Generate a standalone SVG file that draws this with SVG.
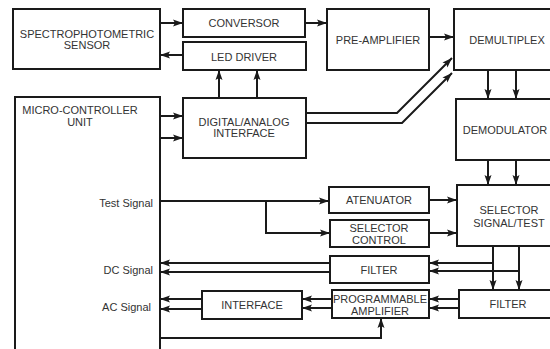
<svg xmlns="http://www.w3.org/2000/svg" width="550" height="349" viewBox="0 0 550 349">
<style>
.box{fill:#fff;stroke:#1a1a1a;stroke-width:2}
.t{font-family:"Liberation Sans",Arial,sans-serif;font-size:11px;fill:#333;text-anchor:middle}
.r{text-anchor:end}
.c{fill:none;stroke:#1a1a1a;stroke-width:2}
</style>
<defs>
<marker id="a" markerUnits="userSpaceOnUse" markerWidth="12" markerHeight="10" refX="10" refY="5" orient="auto">
<path d="M0,1.5 L10,5 L0,8.5 L2,5 Z" fill="#1a1a1a"/>
</marker>
</defs>
<rect width="550" height="349" fill="#fff"/>
<g id="connectors">
<path class="c" d="M160,23 H183" marker-end="url(#a)"/>
<path class="c" d="M183,55 H160" marker-end="url(#a)"/>
<path class="c" d="M305,23 H327" marker-end="url(#a)"/>
<path class="c" d="M429,37 H454" marker-end="url(#a)"/>
<path class="c" d="M219,98 V70" marker-end="url(#a)"/>
<path class="c" d="M257,98 V70" marker-end="url(#a)"/>
<path class="c" d="M160,116 H183" marker-end="url(#a)"/>
<path class="c" d="M160,138 H183" marker-end="url(#a)"/>
<path class="c" d="M306,113 H397 L452,58" marker-end="url(#a)"/>
<path class="c" d="M306,123 H402 L452,73" marker-end="url(#a)"/>
<path class="c" d="M488,70 V99" marker-end="url(#a)"/>
<path class="c" d="M516,70 V99" marker-end="url(#a)"/>
<path class="c" d="M488,160 V185" marker-end="url(#a)"/>
<path class="c" d="M516,160 V185" marker-end="url(#a)"/>
<path class="c" d="M160,201 H329" marker-end="url(#a)"/>
<path class="c" d="M266,201 V233 H330" marker-end="url(#a)"/>
<path class="c" d="M429,200 H457" marker-end="url(#a)"/>
<path class="c" d="M429,233 H457" marker-end="url(#a)"/>
<path class="c" d="M493,246 V290" marker-end="url(#a)"/>
<path class="c" d="M519,246 V290" marker-end="url(#a)"/>
<path class="c" d="M493,263 H429" marker-end="url(#a)"/>
<path class="c" d="M519,271 H429" marker-end="url(#a)"/>
<path class="c" d="M330,263 H160" marker-end="url(#a)"/>
<path class="c" d="M330,272 H160" marker-end="url(#a)"/>
<path class="c" d="M459,299 H429" marker-end="url(#a)"/>
<path class="c" d="M459,308 H429" marker-end="url(#a)"/>
<path class="c" d="M332,299 H302" marker-end="url(#a)"/>
<path class="c" d="M332,308 H302" marker-end="url(#a)"/>
<path class="c" d="M202,299 H160" marker-end="url(#a)"/>
<path class="c" d="M202,309 H160" marker-end="url(#a)"/>
<path class="c" d="M160,338 H381 V318" marker-end="url(#a)"/>
</g>
<g id="sensor"><rect class="box" x="13" y="9" width="147" height="60"/><text class="t" x="87" y="38">SPECTROPHOTOMETRIC</text><text class="t" x="87" y="49">SENSOR</text></g>
<g id="conversor"><rect class="box" x="183" y="9" width="122" height="28"/><text class="t" x="244" y="27">CONVERSOR</text></g>
<g id="led-driver"><rect class="box" x="183" y="42" width="123" height="28"/><text class="t" x="244" y="61">LED DRIVER</text></g>
<g id="pre-amplifier"><rect class="box" x="327" y="9" width="102" height="61"/><text class="t" x="378" y="44">PRE-AMPLIFIER</text></g>
<g id="demultiplex"><rect class="box" x="454" y="9" width="120" height="61"/><text class="t" x="507" y="44">DEMULTIPLEX</text></g>
<g id="mcu"><rect class="box" x="15" y="97" width="145" height="270"/><text class="t" x="80" y="114">MICRO-CONTROLLER</text><text class="t" x="80" y="126">UNIT</text><text class="t r" x="153" y="207">Test Signal</text><text class="t r" x="153" y="274">DC Signal</text><text class="t r" x="151" y="311">AC Signal</text></g>
<g id="da-interface"><rect class="box" x="183" y="98" width="123" height="60"/><text class="t" x="244" y="126">DIGITAL/ANALOG</text><text class="t" x="244" y="137">INTERFACE</text></g>
<g id="demodulator"><rect class="box" x="456" y="99" width="120" height="61"/><text class="t" x="505" y="134">DEMODULATOR</text></g>
<g id="atenuator"><rect class="box" x="329" y="187" width="100" height="26"/><text class="t" x="379" y="204">ATENUATOR</text></g>
<g id="selector-signal-test"><rect class="box" x="457" y="185" width="120" height="61"/><text class="t" x="509" y="214">SELECTOR</text><text class="t" x="509" y="227">SIGNAL/TEST</text></g>
<g id="selector-control"><rect class="box" x="330" y="220" width="99" height="27"/><text class="t" x="379" y="232">SELECTOR</text><text class="t" x="379" y="244">CONTROL</text></g>
<g id="filter-dc"><rect class="box" x="330" y="256" width="99" height="27"/><text class="t" x="379" y="274">FILTER</text></g>
<g id="filter-ac"><rect class="box" x="459" y="290" width="120" height="28"/><text class="t" x="508" y="308">FILTER</text></g>
<g id="programmable-amplifier"><rect class="box" x="332" y="290" width="97" height="28"/><text class="t" x="380" y="303">PROGRAMMABLE</text><text class="t" x="380" y="315">AMPLIFIER</text></g>
<g id="interface"><rect class="box" x="202" y="291" width="100" height="28"/><text class="t" x="252" y="309">INTERFACE</text></g>
</svg>
